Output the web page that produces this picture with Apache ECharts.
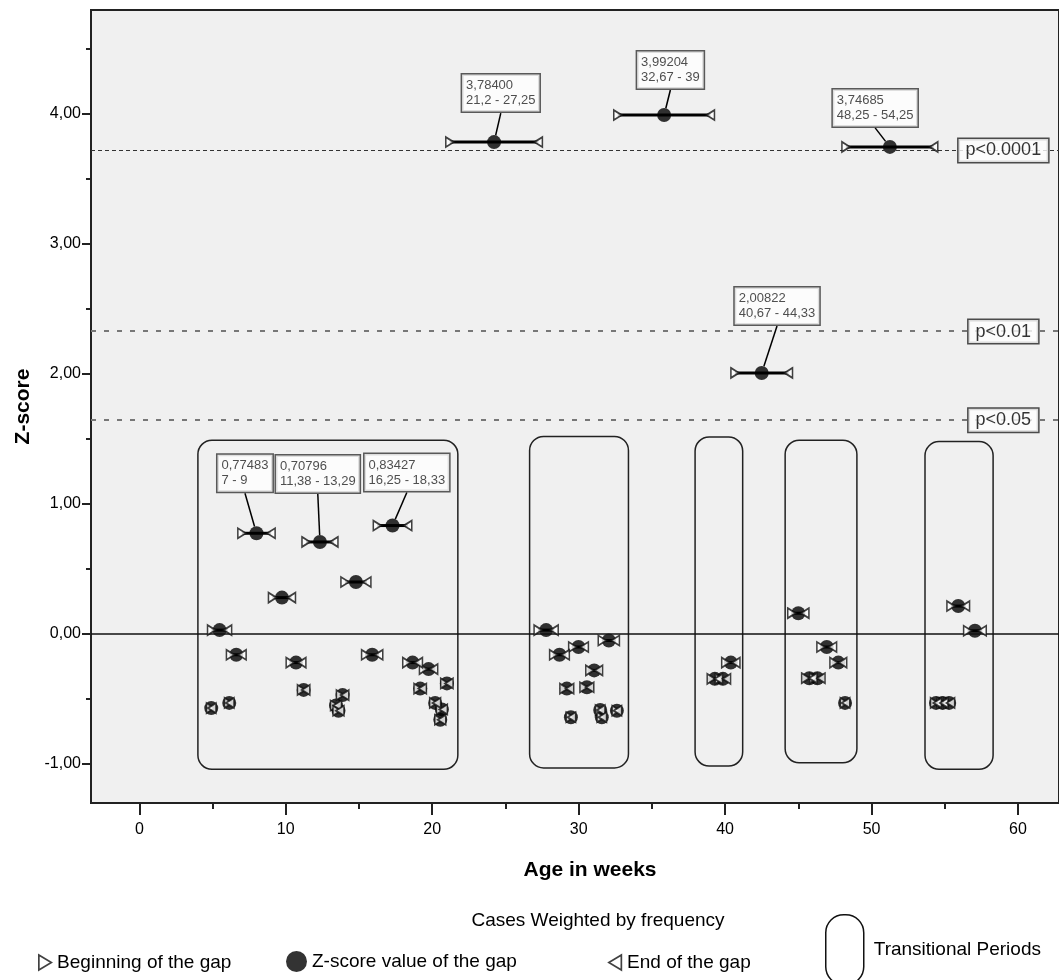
<!DOCTYPE html>
<html lang="en">
<head>
<meta charset="UTF-8">
<title>Z-score of the gaps</title>
</head>
<body style="margin:0;background:#fff;">
<div id="main" style="width:1059px;height:980px;"></div>
<script src="https://cdn.jsdelivr.net/npm/echarts@6/dist/echarts.min.js"></script>
<script>
// gaps: begin week, end week, z-score (first seven carry a value box)
var gapBegin = [21.2, 32.67, 48.25, 40.67, 7, 11.38, 16.25,
    4.93, 6.22, 9.09, 10.30, 11.07, 14.04, 13.73, 13.33, 13.50, 15.45,
    18.26, 19.40, 19.03, 20.85, 20.10, 20.56, 20.45, 6.09, 4.86,
    27.23, 28.29, 29.59, 31.61, 30.76, 28.99, 30.36, 29.42, 31.42, 31.53, 32.56,
    40.04, 39.05, 39.60,
    44.55, 46.54, 47.43, 45.50, 46.05, 48.14,
    55.42, 56.56, 54.30, 54.75, 55.20];
var gapEnd = [27.25, 39, 54.25, 44.33, 9, 13.29, 18.33,
    6.03, 7.02, 10.39, 11.10, 11.37, 15.54, 14.03, 13.53, 13.70, 16.35,
    19.06, 20.10, 19.33, 21.15, 20.30, 20.76, 20.65, 6.19, 4.96,
    28.33, 29.09, 30.39, 32.51, 31.36, 29.39, 30.76, 29.52, 31.52, 31.63, 32.66,
    40.74, 39.55, 40.10,
    45.45, 47.34, 48.03, 46.00, 46.55, 48.24,
    56.42, 57.56, 54.50, 54.95, 55.40];
var gapZ = [3.784, 3.99204, 3.74685, 2.00822, 0.77483, 0.70796, 0.83427,
    0.03, -0.16, 0.28, -0.22, -0.43, 0.40, -0.47, -0.55, -0.59, -0.16,
    -0.22, -0.27, -0.42, -0.38, -0.53, -0.58, -0.66, -0.53, -0.57,
    0.03, -0.16, -0.10, -0.05, -0.28, -0.42, -0.41, -0.64, -0.585, -0.64, -0.59,
    -0.22, -0.345, -0.345,
    0.16, -0.10, -0.22, -0.34, -0.34, -0.53,
    0.215, 0.025, -0.53, -0.53, -0.53];

// transitional periods (weeks / z-score extent of the rounded boxes)
var periodStart = [4.0, 26.65, 37.95, 44.1, 53.65];
var periodEnd = [21.75, 33.4, 41.2, 49.0, 58.3];
var periodTop = [1.49, 1.52, 1.515, 1.49, 1.48];
var periodBottom = [-1.04, -1.03, -1.015, -0.99, -1.04];

// significance levels
var pLevels = [3.719, 2.326, 1.645];
var pNames = ['p<0.0001', 'p<0.01', 'p<0.05'];
var pLabelX = 59.0;

var xTicks = [0, 10, 20, 30, 40, 50, 60];
var yTicks = [-1, 0, 1, 2, 3, 4];

// where each value box sits: left edge / centre offset from its point (px)
var labelOffsets = [[-32, -49], [-27, -45], [-57, -39], [-27, -67], [-39, -60], [-44, -68], [-28, -53]];

var FONT = 'Liberation Sans, Arial, sans-serif';
var triRight = 'path://M0,0L10,6L0,12Z';
var triLeft = 'path://M10,0L0,6L10,12Z';
var pill = 'path://M0,18C0,8 8,0 18,0L20,0C30,0 38,8 38,18L38,52C38,62 30,70 20,70L18,70C8,70 0,62 0,52Z';

function comma(v) { return String(v).replace('.', ','); }

var chart = echarts.init(document.getElementById('main'));

var periodData = periodStart.map(function (s, i) { return [s, periodEnd[i], periodTop[i], periodBottom[i]]; });
var gapData = gapBegin.map(function (b, i) { return [b, gapEnd[i], gapZ[i]]; });
var midData = gapBegin.map(function (b, i) {
    return { value: [(b + gapEnd[i]) / 2, gapZ[i]], label: { show: i < labelOffsets.length } };
});
var beginData = gapBegin.map(function (b, i) { return [b, gapZ[i]]; });
var endData = gapEnd.map(function (e, i) { return [e, gapZ[i]]; });
var levelData = pLevels.map(function (v) { return [pLabelX, v]; });

var triStyle = { color: '#fff', borderColor: '#111', borderWidth: 1.7 };

var option = {
    animation: false,
    textStyle: { fontFamily: FONT },
    title: {
        text: 'Cases Weighted by frequency',
        left: 593, top: 906, textAlign: 'center',
        textStyle: { fontSize: 19, fontWeight: 'normal', color: '#000', fontFamily: FONT }
    },
    legend: [
        { left: 33, top: 948, itemWidth: 14, itemHeight: 15, selectedMode: false,
          textStyle: { fontSize: 19, color: '#000' },
          data: [{ name: 'Beginning of the gap', icon: triRight, itemStyle: triStyle }] },
        { left: 281, top: 946, itemWidth: 21, itemHeight: 21, selectedMode: false,
          textStyle: { fontSize: 19, color: '#000' },
          data: [{ name: 'Z-score value of the gap', icon: 'circle', itemStyle: { color: '#000' } }] },
        { left: 603, top: 948, itemWidth: 14, itemHeight: 15, selectedMode: false,
          textStyle: { fontSize: 19, color: '#000' },
          data: [{ name: 'End of the gap', icon: triLeft, itemStyle: triStyle }] },
        { left: 820, top: 909, itemWidth: 38, itemHeight: 70, selectedMode: false,
          textStyle: { fontSize: 19, color: '#000', padding: [12, 0, 0, 5] },
          data: [{ name: 'Transitional Periods', icon: pill,
                   itemStyle: { color: 'rgba(0,0,0,0)', borderColor: '#111', borderWidth: 1.5 } }] }
    ],
    grid: {
        left: 91, right: 0, top: 10, bottom: 177,
        show: true, backgroundColor: '#f0f0f0', borderColor: '#222', borderWidth: 2
    },
    xAxis: {
        type: 'value', min: -3.3, max: 62.8,
        name: 'Age in weeks', nameLocation: 'middle', nameGap: 57,
        nameTextStyle: { fontSize: 21, fontWeight: 'bold', color: '#000', padding: [0, 0, 0, 30] },
        axisLine: { show: true, onZero: false, lineStyle: { color: '#222', width: 2 } },
        axisTick: { show: true, length: 12, customValues: xTicks, lineStyle: { color: '#222', width: 2 } },
        minorTick: { show: true, splitNumber: 2, length: 6, lineStyle: { color: '#222', width: 2 } },
        axisLabel: { customValues: xTicks, fontSize: 16, color: '#000', margin: 19 },
        splitLine: { show: false }
    },
    yAxis: {
        type: 'value', min: -1.3, max: 4.8,
        name: 'Z-score', nameLocation: 'middle', nameGap: 50,
        nameTextStyle: { fontSize: 21, fontWeight: 'bold', color: '#000' },
        axisLine: { show: true, onZero: false, lineStyle: { color: '#222', width: 2 } },
        axisTick: { show: true, length: 9, customValues: yTicks, lineStyle: { color: '#222', width: 2 } },
        minorTick: { show: true, splitNumber: 2, length: 5, lineStyle: { color: '#222', width: 2 } },
        axisLabel: {
            customValues: yTicks, fontSize: 16, color: '#000', margin: 10,
            formatter: function (v) { return v.toFixed(2).replace('.', ','); }
        },
        splitLine: { show: false }
    },
    series: [
        {
            name: 'Transitional Periods',
            type: 'custom',
            silent: true,
            data: periodData,
            encode: { x: [0, 1], y: [2, 3] },
            renderItem: function (params, api) {
                var a = api.coord([api.value(0), api.value(2)]);
                var b = api.coord([api.value(1), api.value(3)]);
                return {
                    type: 'rect',
                    shape: { x: a[0], y: a[1], width: b[0] - a[0], height: b[1] - a[1], r: 14 },
                    style: { fill: 'none', stroke: '#222', lineWidth: 1.5 }
                };
            },
            markLine: {
                silent: true, symbol: 'none', label: { show: false },
                data: [
                    { yAxis: 0, lineStyle: { type: 'solid', color: '#111', width: 1.5 } },
                    { yAxis: pLevels[0], lineStyle: { type: [4, 3], color: '#333', width: 1.2 } },
                    { yAxis: pLevels[1], lineStyle: { type: [5, 8], color: '#777', width: 2 } },
                    { yAxis: pLevels[2], lineStyle: { type: [5, 8], color: '#777', width: 2 } }
                ]
            }
        },
        {
            name: 'levels',
            type: 'scatter',
            silent: true,
            symbolSize: 0,
            data: levelData,
            z: 5,
            label: {
                show: true, position: 'inside',
                formatter: function (p) { return pNames[p.dataIndex]; },
                fontSize: 18, color: '#000',
                backgroundColor: '#fff', borderColor: '#222', borderWidth: 1.5,
                padding: [3, 7, 2, 7]
            }
        },
        {
            name: 'gap span',
            type: 'custom',
            silent: true,
            data: gapData,
            encode: { x: [0, 1], y: 2 },
            z: 3,
            renderItem: function (params, api) {
                var a = api.coord([api.value(0), api.value(2)]);
                var b = api.coord([api.value(1), api.value(2)]);
                return {
                    type: 'line',
                    shape: { x1: a[0], y1: a[1], x2: b[0], y2: b[1] },
                    style: { stroke: '#000', lineWidth: 3 }
                };
            }
        },
        {
            name: 'Z-score value of the gap',
            type: 'scatter',
            silent: true,
            symbol: 'circle',
            symbolSize: 14,
            z: 4,
            itemStyle: { color: '#000' },
            data: midData,
            label: {
                position: 'inside',
                formatter: function (p) {
                    var i = p.dataIndex;
                    return comma(gapZ[i].toFixed(5)) + '\n' + comma(gapBegin[i]) + ' - ' + comma(gapEnd[i]);
                },
                fontSize: 13, lineHeight: 15, color: '#222', align: 'left',
                backgroundColor: '#fff', borderColor: '#333', borderWidth: 1.5,
                padding: [4, 4, 3, 4]
            },
            labelLine: { show: true, lineStyle: { color: '#000', width: 1.5 } },
            labelLayout: function (p) {
                var o = labelOffsets[p.dataIndex];
                if (!o) return {};
                return { dx: o[0], dy: o[1] };
            }
        },
        {
            name: 'Beginning of the gap',
            type: 'scatter',
            silent: true,
            symbol: triRight,
            symbolSize: [8, 10],
            z: 5,
            itemStyle: triStyle,
            data: beginData
        },
        {
            name: 'End of the gap',
            type: 'scatter',
            silent: true,
            symbol: triLeft,
            symbolSize: [8, 10],
            z: 5,
            itemStyle: triStyle,
            data: endData
        }
    ]
};

chart.setOption(option);
</script>
</body>
</html>
